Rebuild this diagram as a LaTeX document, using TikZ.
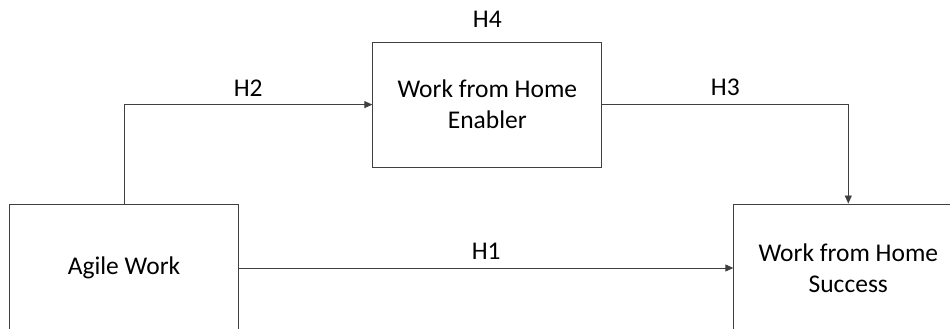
\documentclass[tikz,border=0pt]{standalone}
\usepackage{fontspec}
\setmainfont{Carlito}
\usetikzlibrary{arrows.meta,positioning}

\begin{document}
\begin{tikzpicture}[x=1pt,y=1pt,>={Triangle[length=8pt,width=7pt]},
      line width=0.9pt,
      font=\fontsize{25.5}{31}\selectfont,
      box node/.style={rectangle,draw=black!75,minimum width=229pt,align=center},
      hyp/.style={inner sep=2pt}]
      \clip (0,0) rectangle (950,329);
      \node[box node,minimum height=128pt] (agile) at (124,61) {Agile Work};
      \node[box node,minimum height=125pt] (enabler) [above right=36pt and 133.4pt of agile.north east,anchor=south west] {Work from Home\\Enabler};
      \node[box node,minimum height=128pt] (success) [right=494.4pt of agile] {Work from Home\\Success};
      \node[hyp] (h4) [above=12pt of enabler] {H4};

      \path[->]
        (agile.north) edge [draw=black!75,to path={|- (\tikztotarget) \tikztonodes}] node[hyp,pos=0.75,above=6pt] {H2} (enabler.west)
        (enabler.east) edge [draw=black!75,to path={-| (\tikztotarget) \tikztonodes}] node[hyp,pos=0.25,above=6pt] {H3} (success.north)
        (agile.east) edge [draw=black!75] node[hyp,above=6pt] {H1} (success.west);
\end{tikzpicture}
\end{document}
